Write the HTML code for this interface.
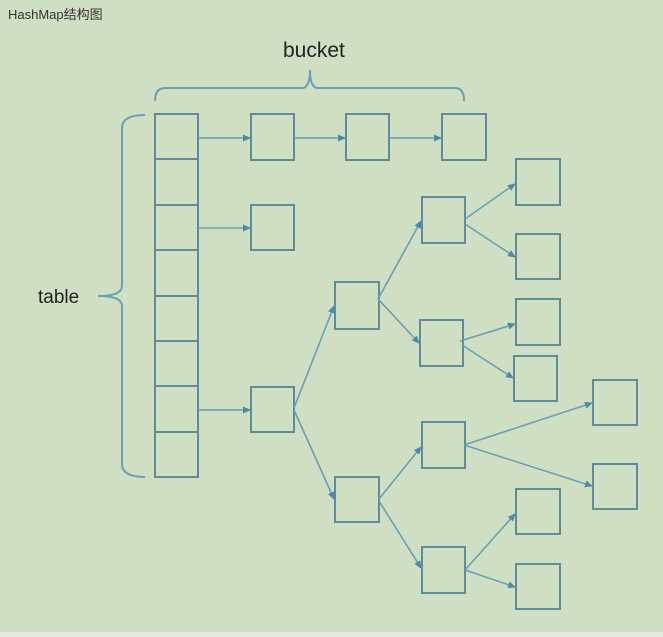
<!DOCTYPE html>
<html><head><meta charset="utf-8"><style>
html,body{margin:0;padding:0;width:663px;height:637px;overflow:hidden;background:#cfdfc3}
svg{position:absolute;left:0;top:0}
</style></head><body>
<svg width="663" height="637" viewBox="0 0 663 637" xmlns="http://www.w3.org/2000/svg">
<defs><marker id="a" markerWidth="8" markerHeight="8" refX="7" refY="4" orient="auto" markerUnits="userSpaceOnUse"><path d="M0,0.5 L8,4 L0,7.5 z" fill="#4f88a8"/></marker></defs>
<rect x="0" y="0" width="663" height="637" fill="#cfdfc3"/>
<rect x="0" y="632" width="663" height="5" fill="#e6e8e4"/>
<text x="8" y="19" font-family="Liberation Sans, 'Noto Sans CJK SC', sans-serif" font-size="13" fill="#333">HashMap结构图</text>
<text x="283" y="57" font-family="Liberation Sans, sans-serif" font-size="21" fill="#222">bucket</text>
<text x="38" y="303" font-family="Liberation Sans, sans-serif" font-size="19" fill="#222">table</text>
<g fill="none" stroke="#6a9fb4" stroke-width="2">
<path d="M155,101 Q155,88 165,88 L302,88 Q310,88 310,70 Q310,88 318,88 L455,88 Q464,88 464,101"/>
<path d="M145,115 Q122,115 122,128 L122,286 Q122,296 98,296 Q122,296 122,306 L122,464 Q122,477 145,477"/>
</g>
<g fill="none" stroke="#5f8c98" stroke-width="2">
<rect x="155" y="114" width="43" height="363"/>
<path d="M155,159H198M155,205H198M155,250H198M155,296H198M155,341H198M155,386H198M155,432H198"/>
<rect x="251" y="114" width="43" height="46"/>
<rect x="346" y="114" width="43" height="46"/>
<rect x="442" y="114" width="44" height="46"/>
<rect x="251" y="205" width="43" height="45"/>
<rect x="251" y="387" width="43" height="45"/>
<rect x="335" y="282" width="44" height="47"/>
<rect x="335" y="477" width="44" height="45"/>
<rect x="422" y="197" width="43" height="46"/>
<rect x="420" y="320" width="43" height="46"/>
<rect x="422" y="422" width="43" height="46"/>
<rect x="422" y="547" width="43" height="46"/>
<rect x="516" y="159" width="44" height="46"/>
<rect x="516" y="234" width="44" height="45"/>
<rect x="516" y="299" width="44" height="46"/>
<rect x="514" y="356" width="43" height="45"/>
<rect x="593" y="380" width="44" height="45"/>
<rect x="593" y="464" width="44" height="45"/>
<rect x="516" y="489" width="44" height="45"/>
<rect x="516" y="564" width="44" height="45"/>
</g>
<g stroke="#6a9fb4" stroke-width="1.6" marker-end="url(#a)">
<line x1="198" y1="138" x2="250" y2="138"/>
<line x1="294" y1="138" x2="345" y2="138"/>
<line x1="389" y1="138" x2="441" y2="138"/>
<line x1="198" y1="228" x2="250" y2="228"/>
<line x1="198" y1="410" x2="250" y2="410"/>
<line x1="294" y1="408" x2="334" y2="306"/>
<line x1="294" y1="410" x2="334" y2="499"/>
<line x1="378" y1="299" x2="421" y2="221"/>
<line x1="378" y1="299" x2="419" y2="343"/>
<line x1="465" y1="219" x2="515" y2="184"/>
<line x1="465" y1="224" x2="515" y2="257"/>
<line x1="460" y1="341" x2="515" y2="324"/>
<line x1="462" y1="345" x2="513" y2="378"/>
<line x1="379" y1="499" x2="421" y2="447"/>
<line x1="379" y1="501" x2="421" y2="568"/>
<line x1="464" y1="445" x2="592" y2="403"/>
<line x1="464" y1="445" x2="592" y2="486"/>
<line x1="465" y1="570" x2="515" y2="514"/>
<line x1="465" y1="570" x2="515" y2="587"/>
</g>
</svg>
</body></html>
